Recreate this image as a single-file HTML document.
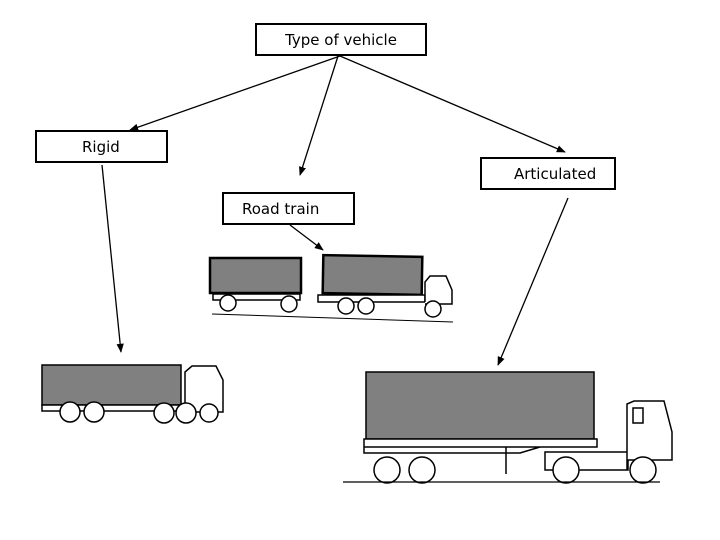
<!DOCTYPE html>
<html><head><meta charset="utf-8"><style>
html,body{margin:0;padding:0;background:#fff;}
svg{display:block}
text{font-family:"DejaVu Sans","Liberation Sans",sans-serif;font-size:15px;fill:#000}
</style></head><body>
<svg width="720" height="540" viewBox="0 0 720 540" xmlns="http://www.w3.org/2000/svg">
<defs><marker id="a" viewBox="0 0 10 10" refX="9" refY="5" markerWidth="7" markerHeight="7" orient="auto"><path d="M0,1 L10,5 L0,9 z" fill="#000"/></marker></defs>
<g fill="#fff" stroke="#000" stroke-width="2">
<rect x="256" y="24" width="170" height="31"/>
<rect x="36" y="131" width="131" height="31"/>
<rect x="481" y="158" width="134" height="31"/>
<rect x="223" y="193" width="131" height="31"/>
</g>
<text x="341" y="45" text-anchor="middle">Type of vehicle</text>
<text x="82" y="152">Rigid</text>
<text x="514" y="179">Articulated</text>
<text x="242" y="214">Road train</text>
<g stroke="#000" stroke-width="1.3" fill="none" marker-end="url(#a)">
<line x1="340" y1="56" x2="130" y2="130"/>
<line x1="338" y1="56" x2="300" y2="175"/>
<line x1="340" y1="56" x2="565" y2="152"/>
<line x1="102" y1="165" x2="121" y2="352"/>
<line x1="568" y1="198" x2="498" y2="365"/>
<line x1="290" y1="225" x2="323" y2="250"/>
</g>
<!-- road train -->
<g stroke="#000" stroke-width="1.5">
<rect x="210" y="258" width="91" height="35" fill="#808080" stroke-width="2.5"/>
<rect x="323" y="256" width="99" height="38" fill="#808080" stroke-width="2.5" transform="rotate(1 372 275)"/>
<path d="M213 294 H300 V300 H213 z M318 295 H425 V302 H318 z" fill="#fff"/>
<path d="M425 302 V282 L430 276 H446 L452 290 V304 H425" fill="#fff"/>
<circle cx="228" cy="303" r="8" fill="#fff"/><circle cx="289" cy="304" r="8" fill="#fff"/>
<circle cx="346" cy="306" r="8" fill="#fff"/><circle cx="366" cy="306" r="8" fill="#fff"/>
<circle cx="433" cy="309" r="8" fill="#fff"/>
<line x1="212" y1="314" x2="453" y2="322" stroke-width="1"/>
</g>
<!-- rigid -->
<g stroke="#000" stroke-width="1.5">
<rect x="42" y="365" width="139" height="40" fill="#808080"/>
<rect x="42" y="405" width="145" height="6" fill="#fff"/>
<path d="M185 410 V372 L192 366 H216 L223 380 V412 H185" fill="#fff"/>
<circle cx="70" cy="412" r="10" fill="#fff"/><circle cx="94" cy="412" r="10" fill="#fff"/>
<circle cx="164" cy="413" r="10" fill="#fff"/><circle cx="186" cy="413" r="10" fill="#fff"/>
<circle cx="209" cy="413" r="9" fill="#fff"/>
</g>
<!-- articulated -->
<g stroke="#000" stroke-width="1.5">
<rect x="366" y="372" width="228" height="67" fill="#808080"/>
<path d="M364 439 H597 V447 H364 z M364 447 H540 L520 453 H364 z" fill="#fff"/>
<path d="M545 452 H628 V470 H545 z" fill="#fff"/>
<path d="M627 470 V404 L634 401 H664 L672 432 V460 H627" fill="#fff"/>
<rect x="633" y="408" width="10" height="15" fill="#fff"/>
<circle cx="387" cy="470" r="13" fill="#fff"/><circle cx="422" cy="470" r="13" fill="#fff"/>
<circle cx="566" cy="470" r="13" fill="#fff"/><circle cx="643" cy="470" r="13" fill="#fff"/>
<line x1="506" y1="447" x2="506" y2="474"/>
<line x1="343" y1="482" x2="660" y2="482" stroke-width="1.2"/>
</g>
</svg>
</body></html>
